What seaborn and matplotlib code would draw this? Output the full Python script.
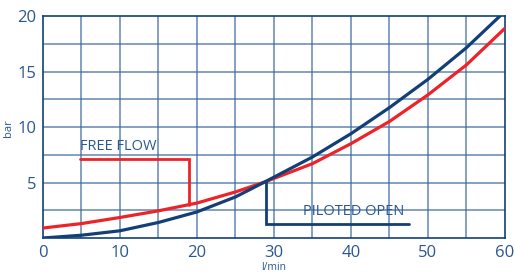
import matplotlib
matplotlib.use("Agg")
import matplotlib.pyplot as plt
import seaborn as sns
import pandas as pd

# curvas
x_piloted = [0, 5, 10, 15, 20, 25, 28.8, 35, 40, 45, 50, 55, 59.35]
y_piloted = [0, 0.25, 0.65, 1.4, 2.35, 3.7, 5.05, 7.3, 9.4, 11.75, 14.3, 17.15, 20]
x_free = [0, 5, 10, 15, 20, 25, 28.8, 35, 40, 45, 50, 55, 60]
y_free = [0.9, 1.3, 1.85, 2.45, 3.15, 4.15, 5.05, 6.7, 8.5, 10.5, 12.9, 15.6, 18.9]

# linhas das legendas
free_leader_x = [4.8, 18.9, 18.9]
free_leader_y = [7.1, 7.1, 3.0]
piloted_leader_x = [28.95, 28.95, 47.5]
piloted_leader_y = [5.05, 1.25, 1.25]

x_ticks = [0, 10, 20, 30, 40, 50, 60]
y_ticks = [5, 10, 15, 20]

navy = "#123f78"
red = "#ee2329"
txt = "#2a5792"
grid_c = "#3a6aa0"

sns.set_style("white")
plt.rcParams['font.family'] = ['Open Sans', 'DejaVu Sans']

df_p = pd.DataFrame({'x': x_piloted, 'y': y_piloted})
df_f = pd.DataFrame({'x': x_free, 'y': y_free})

fig = plt.figure(figsize=(5.15, 2.72), dpi=100)
ax = fig.add_axes([0.0835, 0.125, 0.897, 0.816])

# grade
for gx in range(5, 60, 5):
    ax.axvline(gx, color=grid_c, lw=1.1, alpha=0.8, zorder=1)
for gy in [2.5, 5, 7.5, 10, 12.5, 15, 17.5]:
    ax.axhline(gy, color=grid_c, lw=1.1, alpha=0.8, zorder=1)

sns.lineplot(data=df_f, x='x', y='y', color=red, lw=2.3, ax=ax, zorder=3)
sns.lineplot(data=df_p, x='x', y='y', color=navy, lw=2.3, ax=ax, zorder=4)

ax.plot(free_leader_x, free_leader_y, color=red, lw=2.0, zorder=3, solid_joinstyle='miter')
ax.plot(piloted_leader_x, piloted_leader_y, color=navy, lw=2.0, zorder=3, solid_joinstyle='miter')

ax.text(4.8, 7.55, "FREE FLOW", color=txt, fontsize=10.5, va='bottom', ha='left')
ax.text(33.8, 1.7, "PILOTED OPEN", color=txt, fontsize=10.5, va='bottom', ha='left')

ax.set_xlim(0, 60)
ax.set_ylim(0, 20)
ax.set_xticks(x_ticks)
ax.set_yticks(y_ticks)
ax.tick_params(axis='both', colors=txt, labelsize=12, length=3, width=1, color=navy, pad=2)
ax.set_xlabel("l/min", color=txt, fontsize=7.5, labelpad=1)
ax.set_ylabel("bar", color=txt, fontsize=8)
ax.yaxis.set_label_coords(-0.062, 0.495)

for s in ax.spines.values():
    s.set_color(navy)
    s.set_linewidth(1.2)

fig.savefig("out.png", dpi=100)
